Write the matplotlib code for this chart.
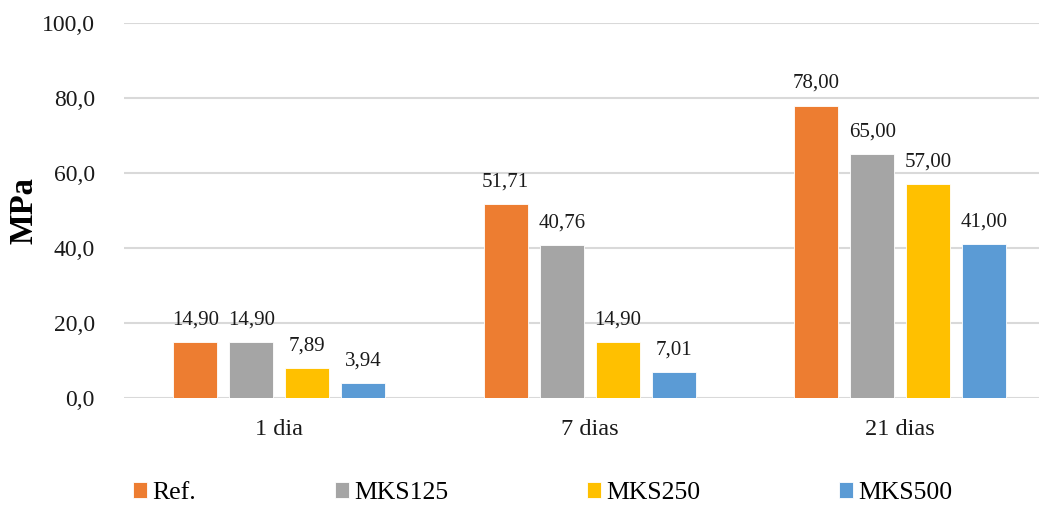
import numpy as np
import matplotlib.pyplot as plt

categories = ['1 dia', '7 dias', '21 dias']
series = ['Ref.', 'MKS125', 'MKS250', 'MKS500']
ref = [14.90, 51.71, 78.00]
mks125 = [14.90, 40.76, 65.00]
mks250 = [7.89, 14.90, 57.00]
mks500 = [3.94, 7.01, 41.00]
colors = ['#ED7D31', '#A5A5A5', '#FFC000', '#5B9BD5']


def fmt(v):
    return '{:.2f}'.format(v).replace('.', ',')


def main():
    plt.rcParams['font.family'] = ['Liberation Serif', 'DejaVu Serif']

    fig = plt.figure(figsize=(10.39, 5.07), dpi=100)
    ax = fig.add_axes([124 / 1039, 109 / 507, 1 - 124 / 1039, 375 / 507])

    x = np.arange(len(categories))
    width = 0.1417
    step = 0.1804
    values = [ref, mks125, mks250, mks500]

    for i, (name, vals, c) in enumerate(zip(series, values, colors)):
        pos = x + (i - 1.5) * step
        bars = ax.bar(pos, vals, width, color=c, label=name,
                      edgecolor='white', linewidth=0.6, zorder=3)
        for b, v in zip(bars, vals):
            ax.annotate(fmt(v), (b.get_x() + b.get_width() / 2, v),
                        xytext=(0, 9), textcoords='offset points',
                        ha='center', va='bottom', fontsize=15,
                        color='#1a1a1a')

    ax.set_xlim(-0.5, 2.447)
    ax.set_ylim(0, 100)
    ticks = np.arange(0, 101, 20)
    ax.set_yticks(ticks)
    ax.set_yticklabels(['{:.1f}'.format(t).replace('.', ',') for t in ticks])
    ax.set_xticks(x)
    ax.set_xticklabels(categories)
    ax.tick_params(axis='y', length=0, pad=21, labelsize=17, labelcolor='#1a1a1a')
    ax.tick_params(axis='x', length=0, pad=15, labelsize=17.5, labelcolor='#1a1a1a')
    ax.yaxis.grid(True, color='#D9D9D9', linewidth=1.5, zorder=0)
    ax.set_axisbelow(True)
    for s in ax.spines.values():
        s.set_visible(False)

    fig.text(24 / 1039, (507 - 211) / 507, 'MPa', rotation=90,
             ha='center', va='center', fontsize=23.5, fontweight='bold')

    fig.legend(loc='center', bbox_to_anchor=(543 / 1039, 14 / 507), ncol=4,
               frameon=False, fontsize=18.5, handlelength=0.55, handleheight=0.55,
               handletextpad=0.2, columnspacing=5.4)

    fig.savefig('out.png', dpi=100)


if __name__ == "__main__":
    main()
